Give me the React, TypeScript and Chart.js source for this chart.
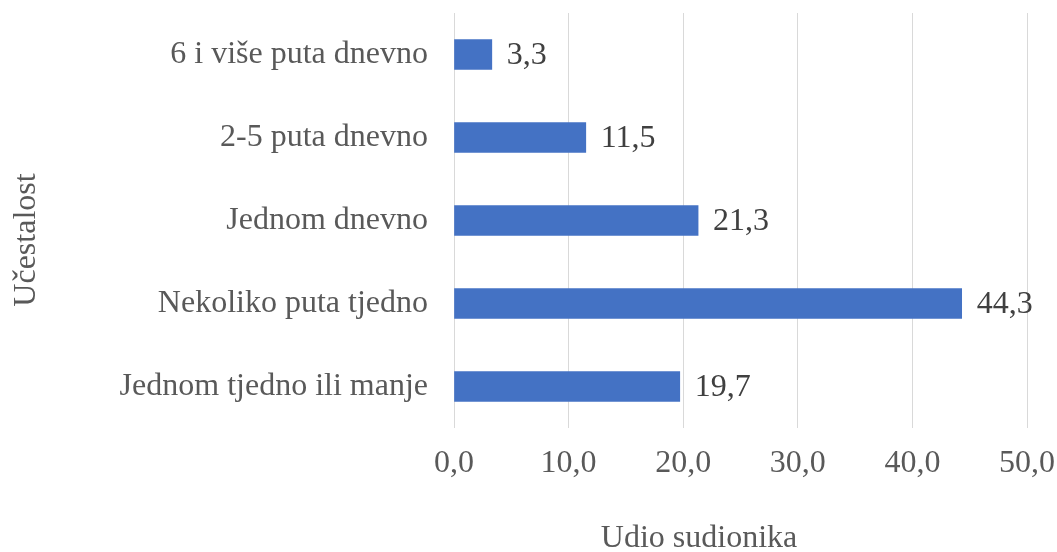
import React, { useEffect, useRef } from "react";
import { Chart, registerables } from "chart.js";

Chart.register(...registerables);

const categories = [
  "6 i više puta dnevno",
  "2-5 puta dnevno",
  "Jednom dnevno",
  "Nekoliko puta tjedno",
  "Jednom tjedno ili manje",
];
const values = [3.3, 11.5, 21.3, 44.3, 19.7];
const xTitle = "Udio sudionika";
const yTitle = "Učestalost";
const xMin = 0;
const xMax = 50;
const xStep = 10;

const FONT = '"Liberation Serif", "Times New Roman", serif';
const fmt = (v: number) => v.toFixed(1).replace(".", ",");

const labelsPlugin = {
  id: "valueLabels",
  afterDatasetsDraw(chart: any) {
    const ctx = chart.ctx;
    const meta = chart.getDatasetMeta(0);
    ctx.save();
    ctx.font = `32px ${FONT}`;
    ctx.fillStyle = "#404040";
    ctx.textAlign = "left";
    ctx.textBaseline = "middle";
    meta.data.forEach((el: any, i: number) => {
      ctx.fillText(fmt(values[i]), el.x + 15, el.y + 1);
    });
    ctx.restore();
  },
};

const titlesPlugin = {
  id: "axisTitles",
  afterDraw(chart: any) {
    const ctx = chart.ctx;
    ctx.save();
    ctx.font = `32px ${FONT}`;
    ctx.fillStyle = "#595959";
    ctx.textAlign = "center";
    ctx.textBaseline = "alphabetic";
    ctx.fillText(xTitle, 699, 547);
    ctx.translate(35, 240);
    ctx.rotate(-Math.PI / 2);
    ctx.fillText(yTitle, 0, 0);
    ctx.restore();
  },
};

const zeroPad = (s: any) => {
  s.paddingTop = 0;
  s.paddingBottom = 0;
  s.paddingLeft = 0;
  s.paddingRight = 0;
};

export default function App() {
  const ref = useRef<HTMLCanvasElement>(null);
  useEffect(() => {
    if (!ref.current) return;
    const chart = new Chart(ref.current, {
      type: "bar",
      data: {
        labels: categories,
        datasets: [
          {
            data: values,
            backgroundColor: "#4472C4",
            borderWidth: 0,
            barThickness: 30,
          },
        ],
      },
      options: {
        indexAxis: "y",
        responsive: false,
        animation: false,
        layout: { padding: { top: 13, right: 30, bottom: 0, left: 0 } },
        plugins: {
          legend: { display: false },
          tooltip: { enabled: false },
        },
        scales: {
          x: {
            min: xMin,
            max: xMax,
            ticks: {
              stepSize: xStep,
              padding: 16,
              color: "#595959",
              font: { family: FONT, size: 32 },
              callback: (v: any) => fmt(Number(v)),
            },
            grid: { color: "#d9d9d9", lineWidth: 1, drawTicks: false },
            border: { display: false },
            afterFit: (s: any) => {
              s.height = 124;
              zeroPad(s);
            },
          },
          y: {
            ticks: {
              padding: 26,
              color: "#595959",
              font: { family: FONT, size: 32 },
            },
            grid: { display: false, drawTicks: false },
            border: { display: false },
            afterFit: (s: any) => {
              s.width = 454;
              zeroPad(s);
            },
          },
        },
      },
      plugins: [labelsPlugin, titlesPlugin],
    });
    return () => chart.destroy();
  }, []);
  return (
    <div style={{ position: "fixed", left: 0, top: 0, width: 1057, height: 552, background: "#fff" }}>
      <canvas ref={ref} width={1057} height={552} />
    </div>
  );
}
